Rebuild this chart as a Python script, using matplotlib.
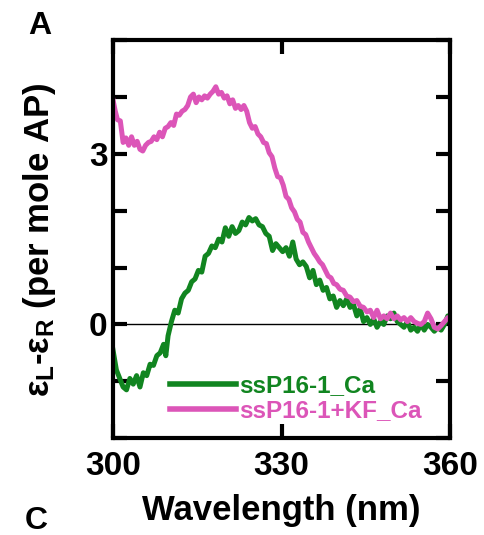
import numpy as np
import matplotlib
matplotlib.use("Agg")
import matplotlib.pyplot as plt

plt.rcParams['font.family'] = ['Liberation Sans', 'DejaVu Sans']
plt.rcParams['font.weight'] = 'bold'
plt.rcParams['mathtext.fontset'] = 'custom'
plt.rcParams['mathtext.rm'] = 'Liberation Sans'
plt.rcParams['mathtext.it'] = 'Liberation Sans'
plt.rcParams['mathtext.bf'] = 'Liberation Sans:bold'

# ssP16-1_Ca (green)
wl_ca = [300.0, 300.6, 301.2, 301.8, 302.4, 303.0, 303.6, 304.2, 304.8, 305.4,
         306.0, 306.6, 307.2, 307.8, 308.4, 309.0, 309.4, 309.8, 310.4, 311.0,
         311.6, 312.2, 312.8, 313.4, 314.0, 314.6, 315.2, 315.8, 316.4, 317.0,
         317.6, 318.2, 318.8, 319.4, 320.0, 320.6, 321.2, 321.8, 322.4, 323.0,
         323.6, 324.2, 324.8, 325.4, 326.0, 326.6, 327.2, 327.8, 328.4, 329.0,
         329.6, 330.2, 330.8, 331.4, 332.0, 332.6, 333.2, 333.8, 334.4, 335.0,
         335.6, 336.2, 336.8, 337.4, 338.0, 338.6, 339.2, 339.8, 340.4, 341.0,
         341.6, 342.2, 342.8, 343.4, 344.0, 344.6, 345.2, 345.8, 346.4, 347.0,
         347.6, 348.2, 348.8, 349.4, 350.0, 350.6, 351.2, 351.8, 352.4, 353.0,
         353.6, 354.2, 354.8, 355.4, 356.0, 356.6, 357.2, 357.8, 358.4, 359.0,
         359.6, 360.0]
cd_ca = [-0.45, -0.8, -0.95, -1.1, -1.15, -0.95, -1.05, -0.9, -1.1, -0.85,
         -0.9, -0.7, -0.72, -0.55, -0.5, -0.35, -0.55, -0.2, 0.05, 0.25,
         0.2, 0.45, 0.55, 0.6, 0.75, 0.8, 0.95, 0.92, 1.2, 1.25,
         1.38, 1.35, 1.5, 1.45, 1.7, 1.55, 1.72, 1.6, 1.65, 1.8,
         1.75, 1.88, 1.82, 1.86, 1.75, 1.72, 1.6, 1.55, 1.3, 1.42,
         1.35, 1.28, 1.35, 1.2, 1.45, 1.15, 1.05, 1.1, 1.02, 0.82,
         0.95, 0.7, 0.78, 0.6, 0.65, 0.45, 0.5, 0.3, 0.42, 0.33,
         0.45, 0.3, 0.35, 0.15, 0.28, 0.05, 0.12, 0.0, 0.1, -0.05,
         0.05, 0.0, 0.15, 0.1, 0.2, 0.05, 0.0, -0.05, 0.05, -0.1,
         -0.05, -0.12, 0.0, -0.1, 0.0, -0.05, -0.12, -0.05, -0.1, 0.0,
         0.15, 0.1]

# ssP16-1+KF_Ca (pink)
wl_kf = [300.0, 300.4, 300.8, 301.3, 301.8, 302.3, 302.8, 303.3, 303.8, 304.3,
         304.8, 305.3, 305.8, 306.3, 306.8, 307.3, 307.8, 308.3, 308.8, 309.3,
         309.8, 310.3, 310.8, 311.3, 311.8, 312.3, 312.8, 313.3, 313.8, 314.3,
         314.8, 315.3, 315.8, 316.3, 316.8, 317.3, 317.8, 318.3, 318.8, 319.3,
         319.8, 320.3, 320.8, 321.3, 321.8, 322.3, 322.8, 323.3, 323.8, 324.3,
         324.8, 325.3, 325.8, 326.3, 326.8, 327.3, 327.8, 328.3, 328.8, 329.3,
         329.8, 330.3, 330.8, 331.3, 331.8, 332.3, 332.8, 333.3, 333.8, 334.3,
         334.8, 335.3, 335.8, 336.3, 336.8, 337.3, 337.8, 338.3, 338.8, 339.3,
         339.8, 340.4, 341.0, 341.6, 342.2, 342.8, 343.4, 344.0, 344.6, 345.2,
         345.8, 346.4, 347.0, 347.6, 348.2, 348.8, 349.4, 350.0, 350.6, 351.2,
         351.8, 352.4, 353.0, 353.6, 354.2, 354.8, 355.4, 356.0, 356.6, 357.2,
         357.8, 358.4, 359.0, 359.6, 360.0]
cd_kf = [3.95, 3.75, 3.6, 3.58, 3.2, 3.28, 3.15, 3.3, 3.15, 3.22,
         3.08, 3.05, 3.15, 3.2, 3.22, 3.3, 3.25, 3.38, 3.3, 3.45,
         3.48, 3.55, 3.5, 3.7, 3.68, 3.75, 3.78, 3.85, 4.0, 4.05,
         3.9, 4.0, 3.95, 4.02, 3.98, 4.05, 4.1, 4.18, 4.05, 4.08,
         3.98, 4.02, 3.88, 3.95, 3.8, 3.85, 3.78, 3.85, 3.75, 3.55,
         3.45, 3.48, 3.35, 3.3, 3.2, 3.18, 3.02, 2.95, 2.75, 2.6,
         2.58, 2.45, 2.25, 2.2, 2.05, 1.98, 1.85, 1.8, 1.62, 1.58,
         1.45, 1.35, 1.25, 1.18, 1.1, 1.05, 0.95, 0.85, 0.82, 0.72,
         0.7, 0.62, 0.6, 0.5, 0.48, 0.4, 0.42, 0.32, 0.3, 0.22,
         0.25, 0.12, 0.25, 0.1, 0.15, 0.1, 0.2, 0.1, 0.15, 0.08,
         0.12, 0.05, 0.12, 0.05, 0.02, 0.0, 0.05, 0.2, 0.1, -0.05,
         -0.08, -0.02, 0.05, 0.12, 0.1]

labels = ['ssP16-1_Ca', 'ssP16-1+KF_Ca']
colors = ['#118520', '#dc55b8']
xticks = [300, 330, 360]
yticks = [-2, -1, 0, 1, 2, 3, 4, 5]
ytick_labels = ['', '', '0', '', '', '3', '', '']

fig = plt.figure(figsize=(4.85, 5.35), dpi=100)
ax = fig.add_axes([0.233, 0.181, 0.695, 0.744])

ax.axhline(0, color='black', lw=1)
l1, = ax.plot(wl_ca, cd_ca, color=colors[0], lw=3.6, label=labels[0])
l2, = ax.plot(wl_kf, cd_kf, color=colors[1], lw=3.6, label=labels[1])

ax.set_xlim(300, 360)
ax.set_ylim(-2, 5)
ax.set_xticks(xticks)
ax.set_yticks(yticks)
ax.set_yticklabels(ytick_labels)
ax.tick_params(direction='in', length=10, width=3, top=True, right=True,
               labelsize=24, pad=9)
ax.tick_params(axis='y', pad=4)
for lab in ax.get_xticklabels() + ax.get_yticklabels():
    lab.set_fontweight('bold')
for sp in ax.spines.values():
    sp.set_linewidth(3)

ax.set_xlabel('Wavelength (nm)', fontsize=25, fontweight='bold', labelpad=9)
ax.set_ylabel(r'$\varepsilon_L$-$\varepsilon_R$ (per mole AP)', fontsize=25,
              fontweight='bold', labelpad=22)

leg = ax.legend(handles=[l1, l2], loc='lower left', bbox_to_anchor=(0.14, 0.015),
                frameon=False, fontsize=17.5, handlelength=2.7, handletextpad=0.15,
                labelspacing=0.08, borderaxespad=0)
for txt, c in zip(leg.get_texts(), colors):
    txt.set_color(c)
    txt.set_fontweight('bold')
for h in leg.get_lines():
    h.set_linewidth(4)

fig.text(0.082, 0.952, 'A', fontsize=23, fontweight='bold', ha='center', va='center')
fig.text(0.075, 0.027, 'C', fontsize=23, fontweight='bold', ha='center', va='center')

fig.savefig('out.png', dpi=100)
